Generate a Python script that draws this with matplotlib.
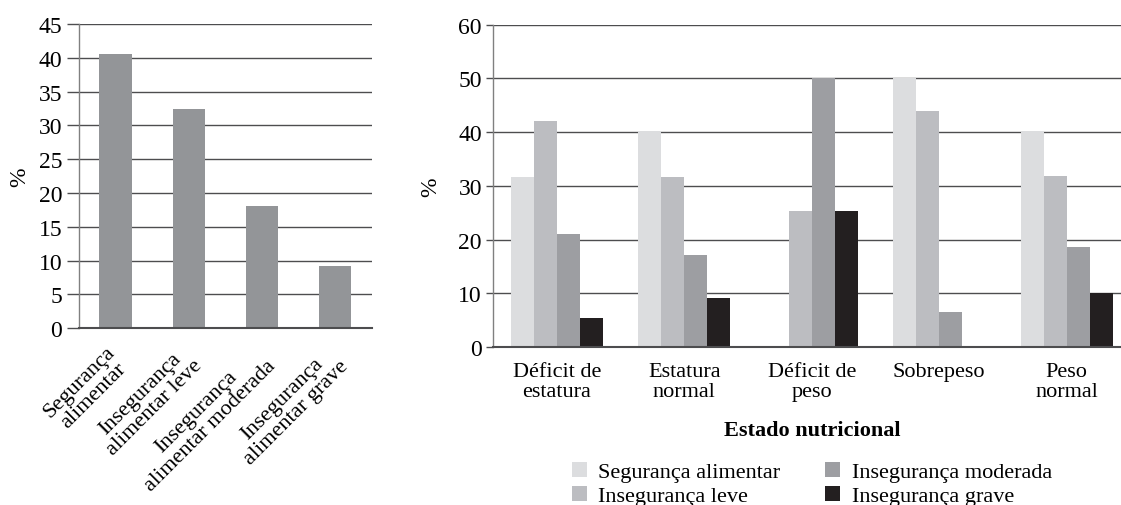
import matplotlib
matplotlib.use("Agg")
import matplotlib.pyplot as plt
import matplotlib.transforms as mtransforms
from matplotlib.patches import Patch
import numpy as np

plt.rcParams['font.family'] = ['Liberation Serif', 'DejaVu Serif']

# left panel
cats_left = ["Segurança\nalimentar", "Insegurança\nalimentar leve",
             "Insegurança\nalimentar moderada", "Insegurança\nalimentar grave"]
vals_left = [40.5, 32.5, 18.1, 9.2]

# right panel
groups = ["Déficit de\nestatura", "Estatura\nnormal", "Déficit de\npeso",
          "Sobrepeso", "Peso\nnormal"]
series = ["Segurança alimentar", "Insegurança leve",
          "Insegurança moderada", "Insegurança grave"]
seg_alimentar = [31.6, 40.2, 0, 50.0, 40.2]
ins_leve = [42.1, 31.6, 25.3, 43.9, 31.8]
ins_moderada = [21.0, 17.1, 50.0, 6.5, 18.6]
ins_grave = [5.4, 9.1, 25.3, 0, 10.1]
colors = ["#dcdddf", "#bcbdc1", "#9d9ea2", "#231f20"]

W, H = 1121, 506
fig = plt.figure(figsize=(W / 100, H / 100), dpi=100)

grid_c = "#4d4d4f"

def style(ax, ticklen):
    for s in ["top", "right"]:
        ax.spines[s].set_visible(False)
    ax.spines["left"].set_color("#808080")
    ax.spines["left"].set_linewidth(1.0)
    ax.spines["bottom"].set_color(grid_c)
    ax.spines["bottom"].set_linewidth(1.5)
    ax.set_axisbelow(True)
    ax.yaxis.grid(True, color=grid_c, linewidth=1.0)
    ax.tick_params(axis="y", length=ticklen, color=grid_c, width=1.0,
                   labelsize=17, pad=3)
    ax.tick_params(axis="x", length=0)

# ---- left chart
ax1 = fig.add_axes([79 / W, (H - 329.3) / H, (371.5 - 79) / W, (329.3 - 25) / H])
x = np.arange(len(vals_left))
ax1.bar(x, vals_left, width=0.44, color="#939598")
ax1.set_xlim(-0.5, 3.5)
ax1.set_ylim(0, 45)
ax1.set_yticks(np.arange(0, 46, 5))
style(ax1, 9)
ax1.set_xticks(x)
ax1.set_xticklabels(cats_left, rotation=45, ha="right", va="top",
                    rotation_mode="anchor", fontsize=16, linespacing=1.05,
                    multialignment="center")
ax1.tick_params(axis="x", pad=10)
shift = mtransforms.ScaledTranslation(-10 / 100, 0, fig.dpi_scale_trans)
for lab in ax1.get_xticklabels():
    lab.set_transform(lab.get_transform() + shift)
ax1.set_ylabel("%", fontsize=17, labelpad=6)

# ---- right chart
x0, x1 = 493, 1130.5
ax2 = fig.add_axes([x0 / W, (H - 348) / H, (x1 - x0) / W, (348 - 25.7) / H])
xg = np.arange(len(groups))
bw = 0.18
data = [seg_alimentar, ins_leve, ins_moderada, ins_grave]
for i, (vals, c) in enumerate(zip(data, colors)):
    ax2.bar(xg + (i - 1.5) * bw, vals, width=bw, color=c, label=series[i])
ax2.set_xlim(-0.5, 4.5)
ax2.set_ylim(0, 60)
ax2.set_yticks(np.arange(0, 61, 10))
style(ax2, 5)
ax2.set_xticks(xg)
ax2.set_xticklabels(groups, fontsize=16, linespacing=1.05)
ax2.tick_params(axis="x", pad=11)
ax2.set_ylabel("%", fontsize=17, labelpad=12)
ax2.set_xlabel("Estado nutricional", fontsize=16, fontweight="bold", labelpad=14)

handles = [Patch(facecolor=c, edgecolor="none") for c in colors]
fig.legend(handles, series,
           ncol=2, loc="center", bbox_to_anchor=((x0 + x1) / 2 / W, 1 - 485 / H),
           frameon=False, fontsize=16, handlelength=0.7, handleheight=0.7,
           handletextpad=0.5, columnspacing=2.0, labelspacing=0.15,
           borderaxespad=0)

fig.savefig("out.png", dpi=100)
